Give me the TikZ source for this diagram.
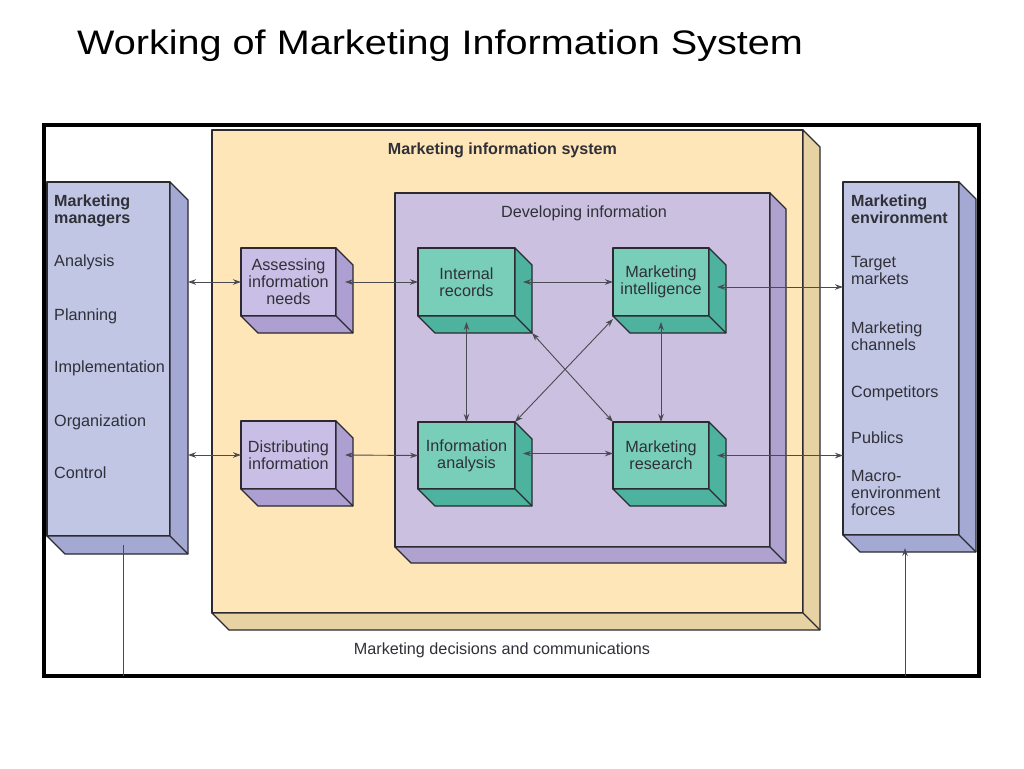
\documentclass[tikz,border=0pt]{standalone}
\usepackage{fontspec}
\setmainfont{Liberation Sans}
\usetikzlibrary{calc,arrows.meta}
\definecolor{yelF}{HTML}{FEE6B8}
\definecolor{yelS}{HTML}{E6D2A3}
\definecolor{purF}{HTML}{CBC0E0}
\definecolor{purS}{HTML}{B0A2CF}
\definecolor{smF}{HTML}{C9BEE6}
\definecolor{smS}{HTML}{AE9FD2}
\definecolor{teaF}{HTML}{78CEB9}
\definecolor{teaS}{HTML}{4DB39F}
\definecolor{bluF}{HTML}{C0C6E4}
\definecolor{bluS}{HTML}{A4A9D3}
\definecolor{boxedge}{HTML}{2A2A30}
\definecolor{conncol}{HTML}{4A4A52}
\definecolor{txt}{HTML}{303038}
\tikzset{
  face/.style={draw=boxedge, line width=1.3pt, outer sep=0pt, inner sep=0pt, line join=round},
  sideface/.style={draw=boxedge, line width=1.3pt, line join=round},
  conn/.style={draw=conncol, line width=0.9pt, {Stealth[length=8pt,width=5.5pt]}-{Stealth[length=8pt,width=5.5pt]}},
  oneway/.style={draw=conncol, line width=0.9pt, -{Stealth[length=8pt,width=5.5pt]}},
  plainline/.style={draw=conncol, line width=0.9pt},
  lbl/.style={text=txt, inner sep=0pt, font=\fontsize{16.2}{17}\selectfont},
  blbl/.style={text=txt, inner sep=0pt, font=\fontsize{16.1}{17}\selectfont\bfseries},
  inbox/.style={text=txt, align=center, font=\fontsize{16.2}{17}\selectfont},
}
% #1 name, #2 centre, #3 width, #4 height, #5 depth, #6 front colour, #7 side colour, #8 text
\newcommand\mkcube[8]{%
  \node[face, fill=#6, minimum width=#3pt, minimum height=#4pt] (#1) at #2 {};
  \filldraw[sideface, fill=#7] (#1.north east) -- ++(#5,#5) -- ($(#1.south east)+(#5,#5)$)
     -- ($(#1.south west)+(#5,#5)$) -- (#1.south west) -- (#1.south east) -- cycle;
  \draw[sideface] (#1.south east) -- ++(#5,#5);
  \node[inbox] at (#1.center) {#8};
}
\begin{document}
\begin{tikzpicture}[x=1pt,y=-1pt]
\useasboundingbox[fill=white] (0,0) rectangle (1024,768);
% title
\node[anchor=base west, inner sep=0pt, font=\fontsize{34}{36}\selectfont] (title) at (77,55) {\scalebox{1.165}[1]{Working of Marketing Information System}};
% frame
\node[draw=black, line width=4pt, fill=white, minimum width=935pt, minimum height=551pt, outer sep=0pt] (frame) at (511.5,400.5) {};
% big boxes
\mkcube{mis}{(507.5,371.5)}{591}{483}{17}{yelF}{yelS}{}
\node[blbl, anchor=base] (mislbl) at (502.5,154) {Marketing information system};
\mkcube{dev}{(582.5,370)}{375}{354}{16}{purF}{purS}{}
\node[lbl, anchor=base] (devlbl) at (584,217) {Developing information};
% side boxes
\mkcube{L}{(108.5,359)}{123}{354}{18}{bluF}{bluS}{}
\mkcube{R}{(901,358.5)}{116}{353}{17}{bluF}{bluS}{}
% left texts
\node[blbl, anchor=base west] (l1) at (54,206) {Marketing};
\node[blbl, anchor=base west] (l2) at (54,223) {managers};
\node[lbl, anchor=base west] (l3) at (54,266) {Analysis};
\node[lbl, anchor=base west] (l4) at (54,320) {Planning};
\node[lbl, anchor=base west] (l5) at (54,372) {Implementation};
\node[lbl, anchor=base west] (l6) at (54,426) {Organization};
\node[lbl, anchor=base west] (l7) at (54,478) {Control};
% right texts
\node[blbl, anchor=base west] (r1) at (851,206) {Marketing};
\node[blbl, anchor=base west] (r2) at (851,223) {environment};
\node[lbl, anchor=base west] (r3) at (851,267) {Target};
\node[lbl, anchor=base west] (r4) at (851,284) {markets};
\node[lbl, anchor=base west] (r5) at (851,333) {Marketing};
\node[lbl, anchor=base west] (r6) at (851,350) {channels};
\node[lbl, anchor=base west] (r7) at (851,397) {Competitors};
\node[lbl, anchor=base west] (r8) at (851,443) {Publics};
\node[lbl, anchor=base west] (r9) at (851,481) {Macro-};
\node[lbl, anchor=base west] (r10) at (851,498) {environment};
\node[lbl, anchor=base west] (r11) at (851,515) {forces};
% small boxes
\mkcube{ass}{(288.5,282)}{95}{68}{17}{smF}{smS}{Assessing\\information\\needs}
\mkcube{dist}{(288.5,455)}{95}{68}{17}{smF}{smS}{Distributing\\information}
\mkcube{int}{(466.5,282)}{97}{68}{17}{teaF}{teaS}{Internal\\records}
\mkcube{intel}{(661,282)}{96}{68}{17}{teaF}{teaS}{Marketing\\intelligence}
\mkcube{ana}{(466.5,455.5)}{97}{67}{17}{teaF}{teaS}{Information\\analysis}
\mkcube{res}{(661,455.5)}{96}{67}{17}{teaF}{teaS}{Marketing\\research}
% bottom label
\node[lbl, anchor=base] (declbl) at (502,654) {Marketing decisions and communications};
% connectors
\draw[conn] ($(L.east|-ass.west)+(18,0)$) -- (ass.west);
\draw[conn] ($(ass.east)+(9,0)$) -- (int.west);
\draw[conn] ($(int.east)+(8,0)$) -- (intel.west);
\draw[conn] ($(intel.east)+(8,5)$) -- ($(R.west|-intel.east)+(0,5)$);
\draw[conn] ($(int.south)+(0,6)$) -- (ana.north);
\draw[conn] ($(intel.south)+(0,6)$) -- (res.north);
\draw[conn] ($(int.south east)+(17,17)$) -- (res.north west);
\draw[conn] ($(intel.south west)+(0,3)$) -- (ana.north east);
\draw[conn] ($(ana.east)+(8,-2)$) -- ($(res.west)+(0,-2)$);
\draw[conn] ($(res.east)+(8,0)$) -- (R.west|-res.east);
\draw[conn] ($(dist.east)+(9,0)$) -- (ana.west);
\draw[conn] ($(L.east|-dist.west)+(18,0)$) -- (dist.west);
\coordinate (mgrfoot) at ($(L.south)+(14.5,9)$);
\draw[plainline] (mgrfoot) -- (mgrfoot|-frame.south);
\coordinate (envfoot) at ($(R.south)+(4,13)$);
\draw[oneway] (envfoot|-frame.south) -- (envfoot);
\end{tikzpicture}
\end{document}
